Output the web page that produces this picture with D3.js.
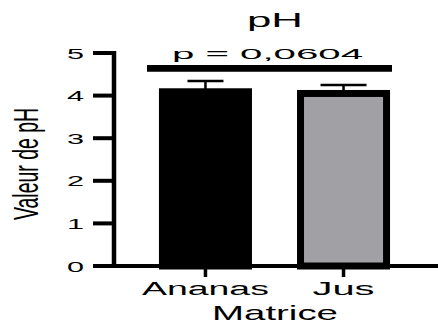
<!DOCTYPE html>
<html>
<head>
<meta charset="UTF-8">
<title>pH</title>
<script src="https://cdn.jsdelivr.net/npm/d3@7"></script>
<style>
    body { margin: 0; padding: 0; background: #fff; }
    text { font-family: "Liberation Sans", Arial, sans-serif; fill: #000; }
</style>
</head>
<body>
<div id="chart"></div>
<script>
// data
var categories = ["Ananas", "Jus"];
var means = [4.09, 4.05];
var errors = [0.25, 0.20];
var yTicks = [0, 1, 2, 3, 4, 5];
var pLabel = "p = 0,0604";

var svgWidth = 438, svgHeight = 329;
var fills = ["#000000", "#a1a1a5"];
var capHalf = [18, 23];

var svg = d3.select("#chart").append("svg")
    .attr("width", svgWidth)
    .attr("height", svgHeight)
    .style("display", "block");

// scales
var y = d3.scaleLinear().domain([0, 5]).range([266, 53]);
var x = d3.scaleBand().domain(categories).range([136.5, 412.5]).paddingInner(0.377).paddingOuter(0.188);

// bars
svg.selectAll("rect.bar")
    .data(means)
    .enter().append("rect")
    .attr("class", "bar")
    .attr("x", (d, i) => x(categories[i]))
    .attr("width", x.bandwidth())
    .attr("y", d => y(d))
    .attr("height", d => y(0) - y(d))
    .attr("fill", (d, i) => fills[i])
    .attr("stroke", "#000")
    .attr("stroke-width", 7);

// error bars (upper only)
means.forEach((m, i) => {
    var cx = x(categories[i]) + x.bandwidth() / 2;
    svg.append("line")
        .attr("x1", cx).attr("x2", cx)
        .attr("y1", y(m)).attr("y2", y(m + errors[i]))
        .attr("stroke", "#000").attr("stroke-width", 2.5);
    svg.append("line")
        .attr("x1", cx - capHalf[i]).attr("x2", cx + capHalf[i])
        .attr("y1", y(m + errors[i])).attr("y2", y(m + errors[i]))
        .attr("stroke", "#000").attr("stroke-width", 2.5);
});

// y axis
svg.append("line")
    .attr("x1", 114).attr("x2", 114)
    .attr("y1", y(5) - 2).attr("y2", y(0) + 2)
    .attr("stroke", "#000").attr("stroke-width", 4.5);
yTicks.forEach(t => {
    svg.append("line")
        .attr("x1", 93).attr("x2", 114)
        .attr("y1", y(t)).attr("y2", y(t))
        .attr("stroke", "#000").attr("stroke-width", 4);
    svg.append("text")
        .attr("x", 84).attr("y", y(t) + 5.5)
        .attr("text-anchor", "end")
        .attr("font-size", 15)
        .attr("textLength", 17)
        .attr("lengthAdjust", "spacingAndGlyphs")
        .text(t);
});

// x axis
svg.append("line")
    .attr("x1", 112).attr("x2", 438)
    .attr("y1", y(0)).attr("y2", y(0))
    .attr("stroke", "#000").attr("stroke-width", 4);
var labelLen = [127, 62];
categories.forEach((c, i) => {
    var cx = x(c) + x.bandwidth() / 2;
    svg.append("line")
        .attr("x1", cx).attr("x2", cx)
        .attr("y1", y(0)).attr("y2", y(0) + 11)
        .attr("stroke", "#000").attr("stroke-width", 3.5);
    svg.append("text")
        .attr("x", cx).attr("y", 295)
        .attr("text-anchor", "middle")
        .attr("font-size", 18)
        .attr("textLength", labelLen[i])
        .attr("lengthAdjust", "spacingAndGlyphs")
        .text(c);
});

// axis titles
svg.append("text")
    .attr("x", 275).attr("y", 320)
    .attr("text-anchor", "middle")
    .attr("font-size", 21)
    .attr("textLength", 126)
    .attr("lengthAdjust", "spacingAndGlyphs")
    .text("Matrice");

svg.append("text")
    .attr("transform", "translate(38,164) rotate(-90)")
    .attr("text-anchor", "middle")
    .attr("font-size", 35)
    .attr("textLength", 112)
    .attr("lengthAdjust", "spacingAndGlyphs")
    .text("Valeur de pH");

svg.append("text")
    .attr("x", 275).attr("y", 26.7)
    .attr("text-anchor", "middle")
    .attr("font-size", 21)
    .attr("textLength", 56)
    .attr("lengthAdjust", "spacingAndGlyphs")
    .text("pH");

// significance line
svg.append("line")
    .attr("x1", 147).attr("x2", 392)
    .attr("y1", 68.3).attr("y2", 68.3)
    .attr("stroke", "#000").attr("stroke-width", 6.7);
svg.append("text")
    .attr("x", 267.5).attr("y", 58.7)
    .attr("text-anchor", "middle")
    .attr("font-size", 15)
    .attr("textLength", 191)
    .attr("lengthAdjust", "spacingAndGlyphs")
    .text(pLabel);
</script>
</body>
</html>
